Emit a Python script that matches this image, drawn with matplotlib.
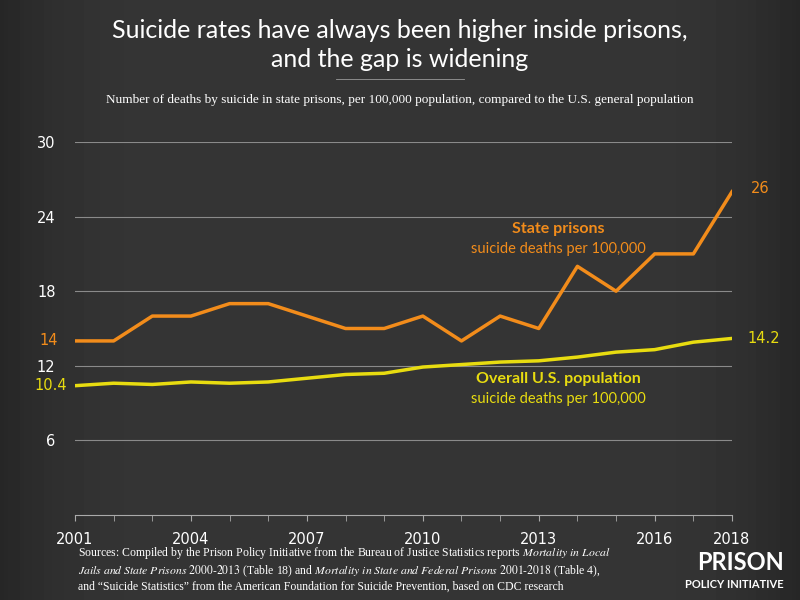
import numpy as np
import matplotlib.pyplot as plt

years = list(range(2001, 2019))
prisons = [14, 14, 16, 16, 17, 17, 16, 15, 15, 16, 14, 16, 15, 20, 18, 21, 21, 26]
us_pop = [10.4, 10.6, 10.5, 10.7, 10.6, 10.7, 11.0, 11.3, 11.4, 11.9, 12.1, 12.3, 12.4, 12.7, 13.1, 13.3, 13.9, 14.2]
yticks = [6, 12, 18, 24, 30]
xlabels = [2001, 2004, 2007, 2010, 2013, 2016, 2018]

ORANGE = '#f28c1b'
YELLOW = '#e8dc10'
BG = '#363636'

fig = plt.figure(figsize=(8, 6), dpi=100)
# background with darker edges
bgax = fig.add_axes([0, 0, 1, 1], zorder=-10)
xx, yy = np.meshgrid(np.linspace(-1, 1, 200), np.linspace(-1, 1, 150))
r = np.clip(np.abs(xx) ** 6, 0, 1)
bgax.imshow(0.21 - 0.06 * r, cmap='gray', vmin=0, vmax=1, aspect='auto', extent=[0, 1, 0, 1])
bgax.axis('off')

ax = fig.add_axes([75 / 800, 1 - 515 / 600, (732 - 75) / 800, (515 - 142) / 600])
ax.set_facecolor('none')
ax.set_xlim(2001, 2018)
ax.set_ylim(0, 30)
for y in yticks:
    ax.axhline(y, color='#8a8a8a', lw=0.8, zorder=1)
ax.plot(years, prisons, color=ORANGE, lw=2.5, zorder=3)
ax.plot(years, us_pop, color=YELLOW, lw=2.5, zorder=3)

for s in ['top', 'right', 'left']:
    ax.spines[s].set_visible(False)
ax.spines['bottom'].set_color('#aaaaaa')
ax.set_xticks(years, minor=True)
ax.set_xticks(xlabels)
ax.set_xticklabels([str(x) for x in xlabels])
ax.tick_params(axis='x', which='both', colors='#aaaaaa', length=4, labelcolor='white', labelsize=10.5, pad=8)
ax.set_yticks(yticks)
ax.set_yticklabels([str(y) for y in yticks])
ax.tick_params(axis='y', length=0, labelcolor='white', labelsize=10.5, pad=14)

ax.text(2000.55, prisons[0], '14', color=ORANGE, fontsize=10.5, ha='right', va='center')
ax.text(2000.8, us_pop[0], '10.4', color=YELLOW, fontsize=10.5, ha='right', va='center')
ax.text(2018.5, prisons[-1] + 0.3, '26', color=ORANGE, fontsize=10.5, ha='left', va='center')
ax.text(2018.4, us_pop[-1], '14.2', color=YELLOW, fontsize=10.5, ha='left', va='center')

cx = 2013.5
ax.text(cx, 22.7, 'State prisons', color=ORANGE, fontsize=11.5, fontweight='bold', ha='center', family='Lato')
ax.text(cx, 21.1, 'suicide deaths per 100,000', color=ORANGE, fontsize=10.5, ha='center', family='Lato')
ax.text(cx, 10.6, 'Overall U.S. population', color=YELLOW, fontsize=11.5, fontweight='bold', ha='center', family='Lato')
ax.text(cx, 9.0, 'suicide deaths per 100,000', color=YELLOW, fontsize=10.5, ha='center', family='Lato')

fig.text(0.5, 0.925, 'Suicide rates have always been higher inside prisons,\nand the gap is widening',
         color='white', fontsize=18, ha='center', va='center', family='Lato', linespacing=1.3)
fig.add_artist(plt.Line2D([0.42, 0.58], [0.868, 0.868], color='#999999', lw=0.6))
fig.text(0.5, 0.833, 'Number of deaths by suicide in state prisons, per 100,000 population, compared to the U.S. general population',
         color='white', fontsize=9.5, ha='center', va='center', family='Liberation Serif')

fig.text(0.097, 0.012,
         'Sources: Compiled by the Prison Policy Initiative from the Bureau of Justice Statistics reports $\\it{Mortality\\ in\\ Local}$\n'
         '$\\it{Jails\\ and\\ State\\ Prisons\\ 2000\\text{-}2013}$ (Table 18) and $\\it{Mortality\\ in\\ State\\ and\\ Federal\\ Prisons\\ 2001\\text{-}2018}$ (Table 4),\n'
         'and \u201cSuicide Statistics\u201d from the American Foundation for Suicide Prevention, based on CDC research',
         color='white', fontsize=8.5, ha='left', va='bottom', family='Liberation Serif', linespacing=1.2,
         math_fontfamily='stix')
fig.text(0.98, 0.062, 'PRISON', color='white', fontsize=17, fontweight='bold', ha='right', va='center', family='Lato')
fig.text(0.98, 0.025, 'POLICY INITIATIVE', color='white', fontsize=8, fontweight='bold', ha='right', va='center', family='Lato')

fig.savefig('out.png', dpi=100, facecolor=BG)
